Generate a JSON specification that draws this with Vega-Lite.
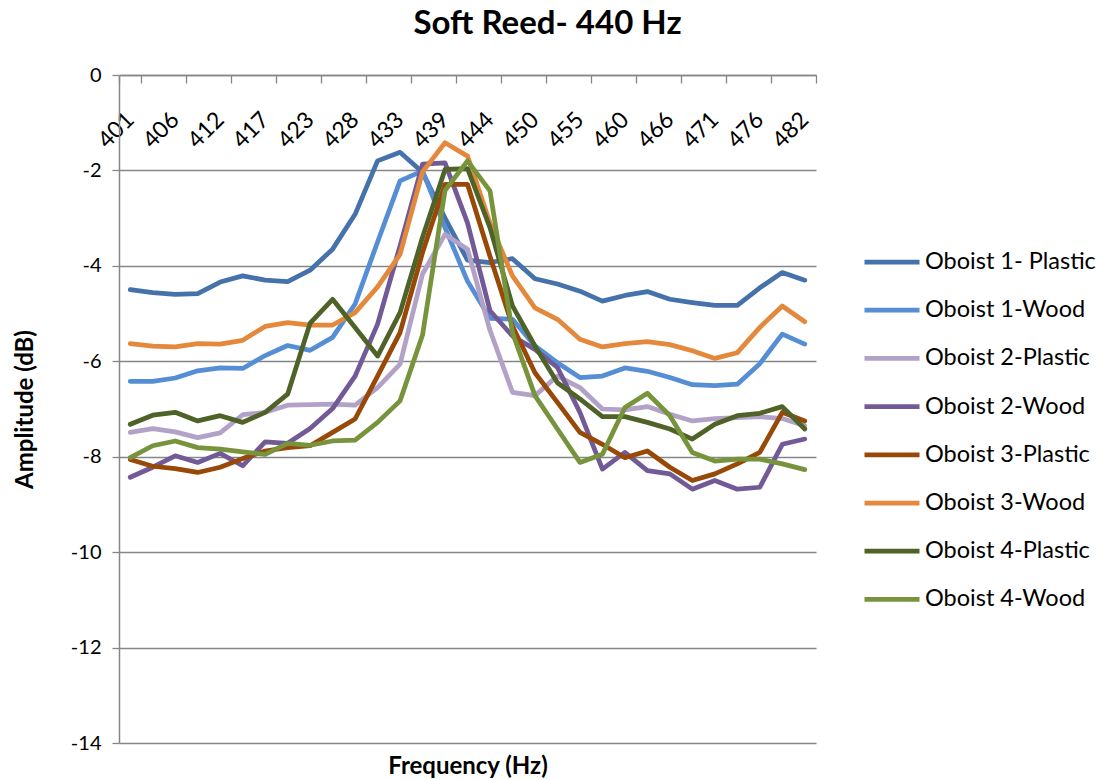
{
  "$schema": "https://vega.github.io/schema/vega-lite/v6.json",
  "autosize": "none",
  "width": 697,
  "height": 668,
  "padding": {"left": 119, "top": 75, "right": 301, "bottom": 37},
  "title": {"text": "Soft Reed- 440 Hz", "font": "Lato", "fontSize": 33, "fontWeight": "bold", "color": "black", "anchor": "middle", "dx": 80, "offset": 24},
  "data": {"values": [
    {"Frequency": 401, "Oboist 1- Plastic": -4.50, "Oboist 1-Wood": -6.42, "Oboist 2-Plastic": -7.49, "Oboist 2-Wood": -8.43, "Oboist 3-Plastic": -8.06, "Oboist 3-Wood": -5.63, "Oboist 4-Plastic": -7.32, "Oboist 4-Wood": -8.02},
    {"Frequency": 404, "Oboist 1- Plastic": -4.56, "Oboist 1-Wood": -6.42, "Oboist 2-Plastic": -7.41, "Oboist 2-Wood": -8.22, "Oboist 3-Plastic": -8.20, "Oboist 3-Wood": -5.68, "Oboist 4-Plastic": -7.13, "Oboist 4-Wood": -7.77},
    {"Frequency": 406, "Oboist 1- Plastic": -4.60, "Oboist 1-Wood": -6.35, "Oboist 2-Plastic": -7.48, "Oboist 2-Wood": -7.98, "Oboist 3-Plastic": -8.25, "Oboist 3-Wood": -5.70, "Oboist 4-Plastic": -7.07, "Oboist 4-Wood": -7.67},
    {"Frequency": 409, "Oboist 1- Plastic": -4.58, "Oboist 1-Wood": -6.20, "Oboist 2-Plastic": -7.60, "Oboist 2-Wood": -8.12, "Oboist 3-Plastic": -8.33, "Oboist 3-Wood": -5.63, "Oboist 4-Plastic": -7.25, "Oboist 4-Wood": -7.81},
    {"Frequency": 412, "Oboist 1- Plastic": -4.34, "Oboist 1-Wood": -6.14, "Oboist 2-Plastic": -7.50, "Oboist 2-Wood": -7.93, "Oboist 3-Plastic": -8.22, "Oboist 3-Wood": -5.64, "Oboist 4-Plastic": -7.14, "Oboist 4-Wood": -7.84},
    {"Frequency": 415, "Oboist 1- Plastic": -4.21, "Oboist 1-Wood": -6.15, "Oboist 2-Plastic": -7.12, "Oboist 2-Wood": -8.19, "Oboist 3-Plastic": -8.04, "Oboist 3-Wood": -5.56, "Oboist 4-Plastic": -7.28, "Oboist 4-Wood": -7.90},
    {"Frequency": 417, "Oboist 1- Plastic": -4.30, "Oboist 1-Wood": -5.88, "Oboist 2-Plastic": -7.07, "Oboist 2-Wood": -7.69, "Oboist 3-Plastic": -7.88, "Oboist 3-Wood": -5.27, "Oboist 4-Plastic": -7.07, "Oboist 4-Wood": -7.95},
    {"Frequency": 420, "Oboist 1- Plastic": -4.33, "Oboist 1-Wood": -5.67, "Oboist 2-Plastic": -6.92, "Oboist 2-Wood": -7.72, "Oboist 3-Plastic": -7.81, "Oboist 3-Wood": -5.19, "Oboist 4-Plastic": -6.69, "Oboist 4-Wood": -7.72},
    {"Frequency": 423, "Oboist 1- Plastic": -4.09, "Oboist 1-Wood": -5.77, "Oboist 2-Plastic": -6.91, "Oboist 2-Wood": -7.41, "Oboist 3-Plastic": -7.77, "Oboist 3-Wood": -5.24, "Oboist 4-Plastic": -5.20, "Oboist 4-Wood": -7.76},
    {"Frequency": 425, "Oboist 1- Plastic": -3.65, "Oboist 1-Wood": -5.50, "Oboist 2-Plastic": -6.90, "Oboist 2-Wood": -6.99, "Oboist 3-Plastic": -7.49, "Oboist 3-Wood": -5.24, "Oboist 4-Plastic": -4.70, "Oboist 4-Wood": -7.67},
    {"Frequency": 428, "Oboist 1- Plastic": -2.92, "Oboist 1-Wood": -4.80, "Oboist 2-Plastic": -6.92, "Oboist 2-Wood": -6.31, "Oboist 3-Plastic": -7.21, "Oboist 3-Wood": -4.98, "Oboist 4-Plastic": -5.29, "Oboist 4-Wood": -7.65},
    {"Frequency": 431, "Oboist 1- Plastic": -1.80, "Oboist 1-Wood": -3.50, "Oboist 2-Plastic": -6.55, "Oboist 2-Wood": -5.22, "Oboist 3-Plastic": -6.31, "Oboist 3-Wood": -4.44, "Oboist 4-Plastic": -5.89, "Oboist 4-Wood": -7.28},
    {"Frequency": 433, "Oboist 1- Plastic": -1.62, "Oboist 1-Wood": -2.22, "Oboist 2-Plastic": -6.06, "Oboist 2-Wood": -3.58, "Oboist 3-Plastic": -5.40, "Oboist 3-Wood": -3.76, "Oboist 4-Plastic": -4.98, "Oboist 4-Wood": -6.83},
    {"Frequency": 436, "Oboist 1- Plastic": -2.04, "Oboist 1-Wood": -2.01, "Oboist 2-Plastic": -4.17, "Oboist 2-Wood": -1.87, "Oboist 3-Plastic": -3.72, "Oboist 3-Wood": -2.03, "Oboist 4-Plastic": -3.40, "Oboist 4-Wood": -5.45},
    {"Frequency": 439, "Oboist 1- Plastic": -3.00, "Oboist 1-Wood": -3.20, "Oboist 2-Plastic": -3.34, "Oboist 2-Wood": -1.84, "Oboist 3-Plastic": -2.29, "Oboist 3-Wood": -1.42, "Oboist 4-Plastic": -1.98, "Oboist 4-Wood": -2.42},
    {"Frequency": 441, "Oboist 1- Plastic": -3.88, "Oboist 1-Wood": -4.32, "Oboist 2-Plastic": -3.65, "Oboist 2-Wood": -3.10, "Oboist 3-Plastic": -2.29, "Oboist 3-Wood": -1.70, "Oboist 4-Plastic": -1.96, "Oboist 4-Wood": -1.80},
    {"Frequency": 444, "Oboist 1- Plastic": -3.93, "Oboist 1-Wood": -5.10, "Oboist 2-Plastic": -5.35, "Oboist 2-Wood": -4.94, "Oboist 3-Plastic": -3.80, "Oboist 3-Wood": -3.10, "Oboist 4-Plastic": -3.20, "Oboist 4-Wood": -2.43},
    {"Frequency": 447, "Oboist 1- Plastic": -3.85, "Oboist 1-Wood": -5.12, "Oboist 2-Plastic": -6.65, "Oboist 2-Wood": -5.47, "Oboist 3-Plastic": -5.26, "Oboist 3-Wood": -4.21, "Oboist 4-Plastic": -4.84, "Oboist 4-Wood": -5.40},
    {"Frequency": 450, "Oboist 1- Plastic": -4.27, "Oboist 1-Wood": -5.68, "Oboist 2-Plastic": -6.72, "Oboist 2-Wood": -5.75, "Oboist 3-Plastic": -6.24, "Oboist 3-Wood": -4.88, "Oboist 4-Plastic": -5.68, "Oboist 4-Wood": -6.72},
    {"Frequency": 452, "Oboist 1- Plastic": -4.38, "Oboist 1-Wood": -6.03, "Oboist 2-Plastic": -6.31, "Oboist 2-Wood": -6.13, "Oboist 3-Plastic": -6.86, "Oboist 3-Wood": -5.12, "Oboist 4-Plastic": -6.45, "Oboist 4-Wood": -7.42},
    {"Frequency": 455, "Oboist 1- Plastic": -4.53, "Oboist 1-Wood": -6.34, "Oboist 2-Plastic": -6.55, "Oboist 2-Wood": -7.07, "Oboist 3-Plastic": -7.49, "Oboist 3-Wood": -5.54, "Oboist 4-Plastic": -6.79, "Oboist 4-Wood": -8.12},
    {"Frequency": 458, "Oboist 1- Plastic": -4.74, "Oboist 1-Wood": -6.31, "Oboist 2-Plastic": -7.00, "Oboist 2-Wood": -8.26, "Oboist 3-Plastic": -7.74, "Oboist 3-Wood": -5.70, "Oboist 4-Plastic": -7.16, "Oboist 4-Wood": -7.95},
    {"Frequency": 460, "Oboist 1- Plastic": -4.62, "Oboist 1-Wood": -6.14, "Oboist 2-Plastic": -7.02, "Oboist 2-Wood": -7.91, "Oboist 3-Plastic": -8.02, "Oboist 3-Wood": -5.63, "Oboist 4-Plastic": -7.16, "Oboist 4-Wood": -6.97},
    {"Frequency": 463, "Oboist 1- Plastic": -4.54, "Oboist 1-Wood": -6.21, "Oboist 2-Plastic": -6.95, "Oboist 2-Wood": -8.29, "Oboist 3-Plastic": -7.88, "Oboist 3-Wood": -5.59, "Oboist 4-Plastic": -7.28, "Oboist 4-Wood": -6.67},
    {"Frequency": 466, "Oboist 1- Plastic": -4.70, "Oboist 1-Wood": -6.34, "Oboist 2-Plastic": -7.11, "Oboist 2-Wood": -8.36, "Oboist 3-Plastic": -8.22, "Oboist 3-Wood": -5.65, "Oboist 4-Plastic": -7.42, "Oboist 4-Wood": -7.14},
    {"Frequency": 468, "Oboist 1- Plastic": -4.77, "Oboist 1-Wood": -6.49, "Oboist 2-Plastic": -7.25, "Oboist 2-Wood": -8.68, "Oboist 3-Plastic": -8.50, "Oboist 3-Wood": -5.78, "Oboist 4-Plastic": -7.63, "Oboist 4-Wood": -7.91},
    {"Frequency": 471, "Oboist 1- Plastic": -4.83, "Oboist 1-Wood": -6.51, "Oboist 2-Plastic": -7.20, "Oboist 2-Wood": -8.50, "Oboist 3-Plastic": -8.36, "Oboist 3-Wood": -5.94, "Oboist 4-Plastic": -7.32, "Oboist 4-Wood": -8.09},
    {"Frequency": 474, "Oboist 1- Plastic": -4.83, "Oboist 1-Wood": -6.48, "Oboist 2-Plastic": -7.18, "Oboist 2-Wood": -8.68, "Oboist 3-Plastic": -8.15, "Oboist 3-Wood": -5.82, "Oboist 4-Plastic": -7.14, "Oboist 4-Wood": -8.05},
    {"Frequency": 476, "Oboist 1- Plastic": -4.46, "Oboist 1-Wood": -6.05, "Oboist 2-Plastic": -7.16, "Oboist 2-Wood": -8.64, "Oboist 3-Plastic": -7.91, "Oboist 3-Wood": -5.29, "Oboist 4-Plastic": -7.09, "Oboist 4-Wood": -8.05},
    {"Frequency": 479, "Oboist 1- Plastic": -4.14, "Oboist 1-Wood": -5.43, "Oboist 2-Plastic": -7.20, "Oboist 2-Wood": -7.74, "Oboist 3-Plastic": -7.07, "Oboist 3-Wood": -4.84, "Oboist 4-Plastic": -6.95, "Oboist 4-Wood": -8.15},
    {"Frequency": 482, "Oboist 1- Plastic": -4.30, "Oboist 1-Wood": -5.64, "Oboist 2-Plastic": -7.35, "Oboist 2-Wood": -7.63, "Oboist 3-Plastic": -7.25, "Oboist 3-Wood": -5.17, "Oboist 4-Plastic": -7.42, "Oboist 4-Wood": -8.27}
  ]},
  "transform": [
    {"fold": ["Oboist 1- Plastic", "Oboist 1-Wood", "Oboist 2-Plastic", "Oboist 2-Wood", "Oboist 3-Plastic", "Oboist 3-Wood", "Oboist 4-Plastic", "Oboist 4-Wood"], "as": ["Series", "Amplitude"]}
  ],
  "mark": {"type": "line", "strokeWidth": 4.75, "strokeJoin": "round", "strokeCap": "round"},
  "encoding": {
    "x": {
      "field": "Frequency", "type": "ordinal", "bandPosition": 0.5,
      "scale": {"type": "band", "paddingInner": 0, "paddingOuter": 0},
      "axis": {
        "orient": "bottom", "offset": -668,
        "values": [401, 406, 412, 417, 423, 428, 433, 439, 444, 450, 455, 460, 466, 471, 476, 482],
        "labelAngle": -45, "labelFontSize": 23, "labelFont": "Lato", "labelColor": "black", "labelPadding": 25, "labelOffset": -8,
        "labelOverlap": false, "labelFlush": false,
        "tickBand": "extent", "tickSize": 8, "tickColor": "#868686", "tickWidth": 1.3,
        "domainColor": "#868686", "domainWidth": 1.5, "grid": false,
        "title": "Frequency (Hz)", "titleFont": "Lato", "titleFontSize": 24, "titleFontWeight": "bold", "titleColor": "black", "titlePadding": 602
      }
    },
    "y": {
      "field": "Amplitude", "type": "quantitative",
      "scale": {"domain": [-14, 0], "nice": false, "zero": false},
      "axis": {
        "values": [-14, -12, -10, -8, -6, -4, -2, 0],
        "labelExpr": "'' + datum.value",
        "grid": true, "gridColor": "#868686", "gridWidth": 1.3,
        "domainColor": "#868686", "domainWidth": 1.5,
        "tickColor": "#868686", "tickWidth": 1.3, "tickSize": 7,
        "labelFontSize": 20, "labelFont": "Lato", "labelColor": "black", "labelPadding": 11, "labelFlush": false,
        "title": "Amplitude (dB)", "titleFont": "Lato", "titleFontSize": 24, "titleFontWeight": "bold", "titleColor": "black", "titlePadding": 33
      }
    },
    "color": {
      "field": "Series", "type": "nominal",
      "scale": {
        "domain": ["Oboist 1- Plastic", "Oboist 1-Wood", "Oboist 2-Plastic", "Oboist 2-Wood", "Oboist 3-Plastic", "Oboist 3-Wood", "Oboist 4-Plastic", "Oboist 4-Wood"],
        "range": ["#4572AB", "#558ED5", "#B3A2C7", "#725A96", "#984807", "#E4883C", "#4F6228", "#77933C"]
      },
      "legend": {
        "orient": "none", "legendX": 743, "legendY": 157, "title": null, "padding": 0,
        "symbolType": "stroke", "symbolSize": 3025, "symbolStrokeWidth": 4.75,
        "labelFontSize": 23.5, "labelFont": "Lato", "labelColor": "black", "labelOffset": 3, "labelLimit": 400, "rowPadding": 6.2
      }
    }
  },
  "config": {"view": {"stroke": null}, "font": "Lato"}
}
